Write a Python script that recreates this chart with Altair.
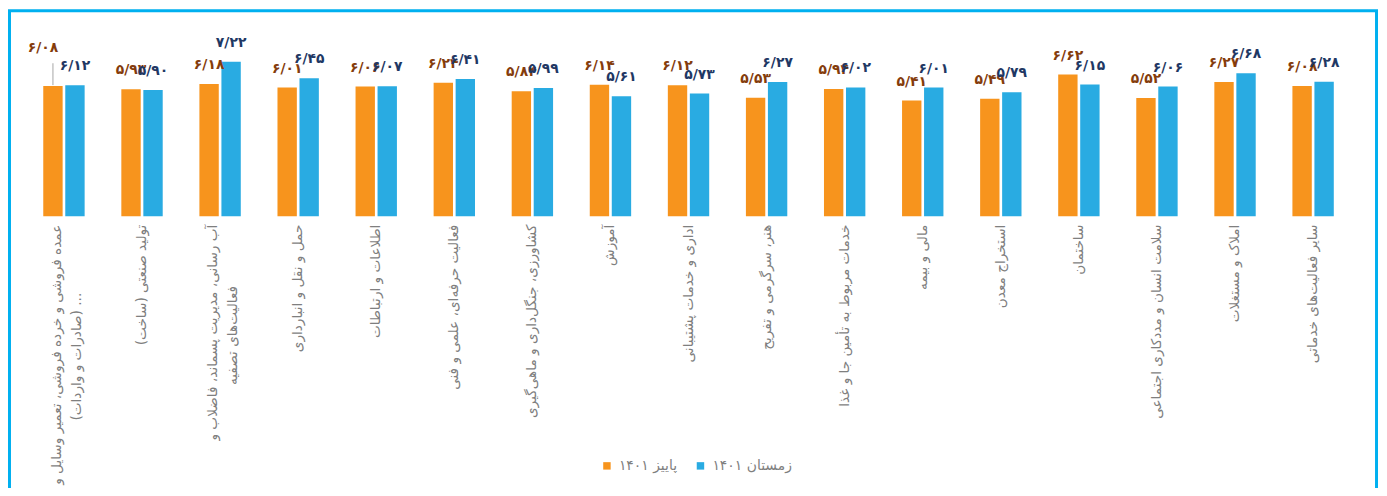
import altair as alt
import pandas as pd

# ---- data ----
categories = [
    "عمده فروشی و خرده فروشی، تعمیر وسایل و|... (صادرات و واردات)",
    "تولید صنعتی (ساخت)",
    "آب رسانی، مدیریت پسماند، فاضلاب و|فعالیت\u200cهای تصفیه",
    "حمل و نقل و انبارداری",
    "اطلاعات و ارتباطات",
    "فعالیت حرفه\u200cای، علمی و فنی",
    "کشاورزی، جنگل\u200cداری و ماهی\u200cگیری",
    "آموزش",
    "اداری و خدمات پشتیبانی",
    "هنر، سرگرمی و تفریح",
    "خدمات مربوط به تأمین جا و غذا",
    "مالی و بیمه",
    "استخراج معدن",
    "ساختمان",
    "سلامت انسان و مددکاری اجتماعی",
    "املاک و مستغلات",
    "سایر فعالیت\u200cهای خدماتی",
]
autumn_1401 = [6.08, 5.93, 6.18, 6.01, 6.06, 6.24, 5.84, 6.14, 6.12, 5.53,
               5.94, 5.41, 5.49, 6.62, 5.52, 6.27, 6.08]
winter_1401 = [6.12, 5.90, 7.22, 6.45, 6.07, 6.41, 5.99, 5.61, 5.73, 6.27,
               6.02, 6.01, 5.79, 6.15, 6.06, 6.68, 6.28]
series_names = ["پاییز ۱۴۰۱", "زمستان ۱۴۰۱"]

# layout: indent (in en-spaces) of the second line so it is centred under the first
line2_indent = {0: 10, 2: 9}

ORANGE = "#F7941D"
BLUE = "#29ABE2"
ORANGE_TXT = "#843C0C"
BLUE_TXT = "#1F3864"
FONT = "DejaVu Sans"
RLM = "\u200f"
ENSP = "\u2002"

fa_digits = str.maketrans("0123456789.", "۰۱۲۳۴۵۶۷۸۹/")


def axis_text(i, c):
    lines = c.split("|")
    if len(lines) > 1:
        lines[1] = ENSP * line2_indent.get(i, 0) + lines[1]
    return [RLM + ln + RLM for ln in lines]


label_lookup = {c: axis_text(i, c) for i, c in enumerate(categories)}

rows = []
for c, a, w in zip(categories, autumn_1401, winter_1401):
    for s, v in zip(series_names, (a, w)):
        rows.append({"category": c, "series": s, "value": v,
                     "label": f"{v:.2f}".translate(fa_digits)})
df = pd.DataFrame(rows)

# labelExpr mapping each category to its (multi-line) axis text
expr = "datum.label"
for c, lines in reversed(list(label_lookup.items())):
    arr = "[" + ",".join("'" + ln + "'" for ln in lines) + "]"
    expr = f"datum.value === '{c}' ? {arr} : ({expr})"

x_enc = alt.X(
    "category:N", sort=categories,
    scale=alt.Scale(paddingInner=0.47, paddingOuter=0.235),
    axis=alt.Axis(title=None, labelAngle=270, labelAlign="right", labelBaseline="middle",
                  domain=False, ticks=False, labelPadding=8, labelFont=FONT,
                  labelFontSize=13.7, labelColor="#7F7F7F", labelLimit=500,
                  labelExpr=expr, labelLineHeight=20,
                  labelOffset={"condition": {"test": "indexof(datum.value, '|') >= 0",
                                             "value": -7},
                               "value": 0}),
)
xoff = alt.XOffset("series:N", sort=series_names, scale=alt.Scale(paddingInner=0.12))
y_enc = alt.Y("value:Q", scale=alt.Scale(domain=[0, 8]), axis=None)

base = alt.Chart(df)

bars = base.mark_bar().encode(
    x=x_enc, xOffset=xoff, y=y_enc,
    color=alt.Color("series:N", sort=series_names,
                    scale=alt.Scale(domain=series_names, range=[ORANGE, BLUE]),
                    legend=alt.Legend(orient="none", legendX=578, legendY=416,
                                      direction="horizontal", title=None,
                                      symbolType="square", symbolSize=56,
                                      symbolStrokeWidth=0, labelFont=FONT,
                                      labelFontSize=14, labelColor="#7F7F7F",
                                      labelOffset=5, columnPadding=16, padding=0)),
)

is_first = (alt.datum.category == categories[0]) & (alt.datum.series == series_names[0])
txt_color = alt.condition(alt.datum.series == series_names[0],
                          alt.value(ORANGE_TXT), alt.value(BLUE_TXT))

labels = base.transform_filter(~is_first).mark_text(
    font=FONT, fontSize=14, fontWeight="bold", baseline="middle", dy=-19
).encode(x=x_enc, xOffset=xoff, y=y_enc, text="label:N", color=txt_color)

special = base.transform_filter(is_first).mark_text(
    font=FONT, fontSize=14, fontWeight="bold", baseline="middle", dx=-10, dy=-38
).encode(x=x_enc, xOffset=xoff, y=y_enc, text="label:N", color=txt_color)

leader = base.transform_filter(is_first).mark_rule(
    color="#A6A6A6", strokeWidth=1, yOffset=-1, y2Offset=-23
).encode(x=x_enc, xOffset=xoff, y=y_enc, y2="value:Q")

frame = alt.Chart(pd.DataFrame({"f": [0]})).mark_rect(
    fillOpacity=0, stroke="#00B0F0", strokeWidth=3, clip=False
).encode(x=alt.value(-15.5), x2=alt.value(1358.5), y=alt.value(-34.5), y2=alt.value(470))

chart = alt.layer(bars, labels, special, leader, frame).properties(
    width=1334, height=172,
    autosize=alt.AutoSizeParams(type="none"),
    padding={"left": 17, "top": 36, "right": 27, "bottom": 272},
).configure_view(stroke=None)

chart.save("out.html", embed_options={"renderer": "svg", "actions": False})
